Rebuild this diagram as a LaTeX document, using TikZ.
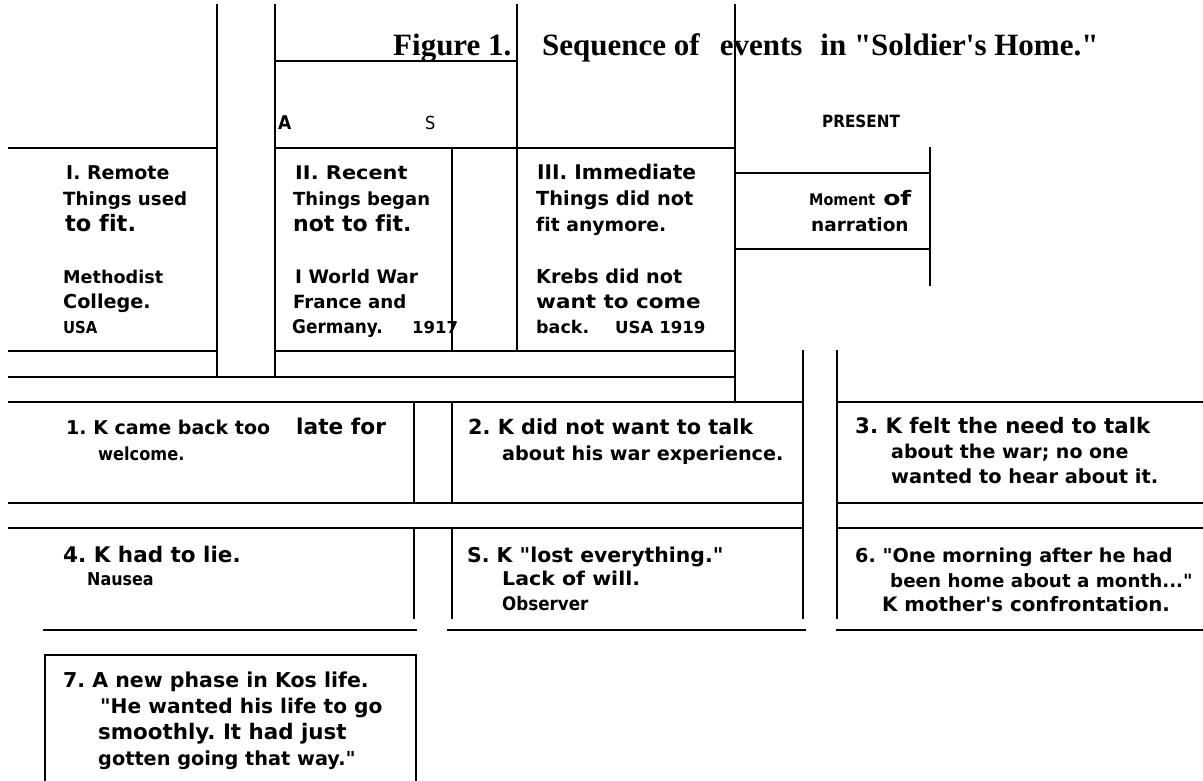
\documentclass[tikz,border=0pt]{standalone}
\usepackage{fontspec}
\newfontfamily\bodyf{DejaVu Sans}[Ligatures={NoCommon}]
\newfontfamily\condf{DejaVu Sans Condensed}[Ligatures={NoCommon}]
\newfontfamily\titlef{Liberation Serif}
\newcommand{\ap}{\textquotesingle}
\tikzset{
  rule/.style={line width=2.8pt, line cap=rect},
  txt/.style={anchor=base west, inner sep=0pt, font=\bodyf\bfseries\fontsize{#1}{#1}\selectfont},
  txt/.default=18.5,
  cnd/.style={anchor=base west, inner sep=0pt, font=\condf\bfseries\fontsize{#1}{#1}\selectfont},
  cnd/.default=18,
  cndr/.style={anchor=base west, inner sep=0pt, font=\condf\fontsize{#1}{#1}\selectfont},
  cndr/.default=18,
  ttl/.style={anchor=base west, inner sep=0pt, font=\titlef\bfseries\fontsize{31}{36}\selectfont}
}
\begin{document}
\frenchspacing
\begin{tikzpicture}[x=1pt,y=-1pt]
\useasboundingbox[fill=white] (0,0) rectangle (1203,781);
% vertical rules
\draw[rule] (217,5) -- (217,377);
\draw[rule] (275,5) -- (275,377);
\draw[rule] (517,5) -- (517,351);
\draw[rule] (452,148) -- (452,351);
\draw[rule] (735,5) -- (735,402);
\draw[rule] (930,148) -- (930,285);
\draw[rule] (803,351) -- (803,618);
\draw[rule] (837,351) -- (837,618);
\draw[rule] (414,402) -- (414,503);
\draw[rule] (452,402) -- (452,503);
\draw[rule] (414,528) -- (414,618);
\draw[rule] (452,528) -- (452,618);
% horizontal rules
\draw[rule] (275,61) -- (517,61);
\draw[rule] (9,148) -- (217,148);
\draw[rule] (275,148) -- (735,148);
\draw[rule] (735,173) -- (930,173);
\draw[rule] (735,249) -- (930,249);
\draw[rule] (9,351) -- (217,351);
\draw[rule] (275,351) -- (735,351);
\draw[rule] (9,377) -- (735,377);
\draw[rule] (9,402) -- (803,402);
\draw[rule] (837,402) -- (1203,402);
\draw[rule] (9,503) -- (803,503);
\draw[rule] (837,503) -- (1203,503);
\draw[rule] (9,528) -- (803,528);
\draw[rule] (837,528) -- (1203,528);
\draw[rule] (44,630) -- (416,630);
\draw[rule] (448,630) -- (805,630);
\draw[rule] (837,630) -- (1203,630);
% box 7
\draw[rule] (45,781) -- (45,655) -- (416,655) -- (416,781);
% title
\node[ttl] (title1) at (393,56) {Figure 1.};
\node[ttl] (title2) at (542,56) {Sequence of\hspace{20pt}events\hspace{18pt}in "Soldier\ap s Home."};
% headers
\node[cnd=19] (hA) at (278,130) {A};
\node[cndr] (hS) at (425,130) {S};
\node[cnd=16.9] (hP) at (822,128) {PRESENT};
% column I
\node[txt=19] (c1a) at (66,180) {I. Remote};
\node[txt=18.2] (c1b) at (63,206) {Things used};
\node[txt=22.5] (c1c) at (65,232) {to fit.};
\node[txt=17.6] (c1d) at (63,283) {Methodist};
\node[txt=19.2] (c1e) at (63,308) {College.};
\node[cnd=16.5] (c1f) at (63,333) {USA};
% column II
\node[txt=18.8, xscale=1.11] (c2a) at (295,180) {II. Recent};
\node[txt=18] (c2b) at (293,206) {Things began};
\node[txt=22] (c2c) at (293,232) {not to fit.};
\node[txt=18.6] (c2d) at (295,283) {I World War};
\node[txt=18.2] (c2e) at (293,308) {France and};
\node[cnd=18.8] (c2f) at (292,333) {Germany.};
\node[txt=16.5] (c2g) at (412,333) {1917};
% column III
\node[txt=20.2] (c3a) at (537,180) {III. Immediate};
\node[txt=19.4] (c3b) at (536,206) {Things did not};
\node[txt=18.8] (c3c) at (536,232) {fit anymore.};
\node[txt=19.2] (c3d) at (536,283) {Krebs did not};
\node[txt=19.2, xscale=1.12] (c3e) at (536,308) {want to come};
\node[txt=17.5] (c3f) at (536,333) {back.};
\node[txt=16.6] (c3g) at (615,333) {USA 1919};
% present
\node[cnd=16] (pm) at (809,206) {Moment};
\node[txt=20, xscale=1.25] (po) at (883,206) {of};
\node[txt] (pn) at (811,231) {narration};
% row 1
\node[txt=19] (e1a) at (66,434) {1. K came back too};
\node[txt=21.7] (e1b) at (296,434) {late for};
\node[cnd=18] (e1c) at (98,460) {welcome.};
\node[txt=20.8] (e2a) at (468,434) {2. K did not want to talk};
\node[txt=19.2] (e2b) at (502,460) {about his war experience.};
\node[txt=21.3] (e3a) at (855,433) {3. K felt the need to talk};
\node[txt=19] (e3b) at (891,458) {about the war; no one};
\node[txt=19.4] (e3c) at (891,483) {wanted to hear about it.};
% row 2
\node[txt=21.5] (e4a) at (63,562) {4. K had to lie.};
\node[cnd=17.7] (e4b) at (87,585) {Nausea};
\node[txt=20.4] (e5a) at (467,562) {S. K "lost everything."};
\node[txt=19, xscale=1.08] (e5b) at (502,585) {Lack of will.};
\node[cnd=18.6] (e5c) at (502,610) {Observer};
\node[txt=19.2] (e6a) at (855,562) {6. "One morning after he had};
\node[txt=18.3] (e6b) at (890,587) {been home about a month..."};
\node[txt=19.8] (e6c) at (882,611) {K mother\ap s confrontation.};
% row 3
\node[txt=20.5] (e7a) at (63,687) {7. A new phase in Kos life.};
\node[txt=20.2] (e7b) at (100,713) {"He wanted his life to go};
\node[txt=21.4] (e7c) at (98,739) {smoothly. It had just};
\node[txt=19.3] (e7d) at (98,765) {gotten going that way."};
\end{tikzpicture}
\end{document}
